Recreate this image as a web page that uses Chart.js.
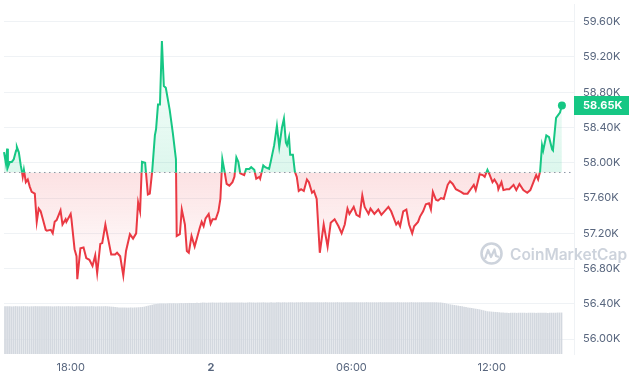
<!DOCTYPE html>
<html><head><meta charset="utf-8">
<script src="https://cdn.jsdelivr.net/npm/chart.js@4.4.0/dist/chart.umd.min.js"></script>
<style>html,body{margin:0;padding:0;background:#fff;}canvas{display:block;}</style>
</head><body>
<canvas id="c" width="630" height="380"></canvas>
<script>
// minutes after 15:09 (day 1)
const priceTimes = [
  0,5,8,10,15,20,25,31,33,38,
  43,46,48,51,56,61,66,71,79,84,
  89,94,99,107,110,120,125,130,135,145,
  150,158,160,171,173,181,186,188,196,204,
  211,219,227,234,239,247,252,260,267,275,
  285,290,298,306,313,323,331,339,344,349,
  354,362,369,374,380,387,390,395,400,405,
  410,415,425,433,441,443,451,456,464,469,
  474,481,489,494,502,507,512,517,525,530,
  535,543,550,555,560,565,571,578,586,591,
  596,601,606,616,621,629,634,642,647,655,
  657,665,670,680,685,693,700,706,713,718,
  723,726,731,734,741,746,751,756,762,769,
  777,782,790,795,802,810,820,830,838,848,
  858,866,874,881,886,897,904,912,919,925,
  935,940,950,960,968,986,993,1006,1011,1016,
  1024,1032,1039,1047,1052,1062,1067,1075,1082,1090,
  1095,1100,1108,1113,1121,1128,1138,1144,1151,1159,
  1172,1179,1189,1197,1205,1210,1220,1228,1233,1240,
  1245,1253,1258,1266,1268,1276,1281,1289,1296,1307,
  1314,1322,1332,1342,1350,1358,1365,1370,1375,1380,
  1383,1391,1398,1406,1408,1416,1426,1431
];
// price in thousands USD
const prices = [
  58.12,57.99,58.16,57.95,58.01,58.01,58.04,58.14,58.18,58.12,
  57.97,57.90,57.84,57.92,57.78,57.81,57.73,57.67,57.65,57.33,
  57.48,57.45,57.37,57.24,57.23,57.24,57.20,57.33,57.35,57.46,
  57.30,57.36,57.33,57.42,57.36,57.02,56.94,56.68,57.03,57.04,
  56.92,56.90,56.83,56.95,56.75,57.08,57.09,57.30,57.14,56.96,
  56.96,56.98,56.94,56.72,57.00,57.19,57.14,57.20,57.55,57.45,
  58.01,58.00,57.64,57.65,57.90,58.31,58.38,58.66,58.66,59.38,
  58.87,58.85,58.60,58.34,58.04,57.17,57.19,57.47,57.30,57.00,
  56.98,57.17,57.05,57.13,57.26,57.33,57.28,57.37,57.42,57.31,
  57.36,57.36,57.45,57.59,58.04,57.92,57.76,57.74,57.78,57.84,
  58.06,58.01,57.88,57.86,57.93,57.93,57.95,57.92,57.82,57.84,
  57.82,57.97,57.95,57.93,58.03,58.20,58.42,58.18,58.40,58.50,
  58.23,58.20,58.29,58.09,58.09,57.90,57.84,57.68,57.70,57.68,
  57.81,57.78,57.66,57.68,57.59,56.98,57.30,57.05,57.32,57.36,
  57.28,57.20,57.30,57.48,57.42,57.50,57.41,57.39,57.63,57.50,
  57.42,57.48,57.42,57.47,57.41,57.50,57.45,57.30,57.33,57.28,
  57.45,57.47,57.30,57.20,57.28,57.33,57.39,57.45,57.53,57.54,
  57.47,57.67,57.58,57.57,57.60,57.59,57.75,57.79,57.76,57.70,
  57.67,57.65,57.65,57.70,57.75,57.69,57.87,57.86,57.84,57.92,
  57.87,57.78,57.81,57.75,57.70,57.78,57.69,57.70,57.70,57.75,
  57.69,57.76,57.69,57.66,57.69,57.78,57.86,57.81,57.90,58.20,
  58.14,58.31,58.29,58.15,58.14,58.51,58.57,58.65
];
// 24h volume (billions), one bar every 5 minutes
const volumes = [
  29.5,29.6,29.5,29.5,29.4,29.5,29.6,29.5,29.5,29.5,
  29.6,29.5,29.5,29.4,29.5,29.5,29.6,29.5,29.5,29.5,
  29.5,29.6,29.5,29.5,29.5,29.4,29.5,29.5,29.6,29.5,
  29.5,29.5,29.5,29.6,29.5,29.5,29.4,29.5,29.5,29.5,
  29.6,29.5,29.5,29.5,29.5,29.6,29.5,29.4,29.5,29.5,
  29.5,29.5,29.6,29.5,29.4,29.3,29.2,29.0,
  28.9,28.8,28.8,28.7,28.8,28.7,28.7,28.8,28.7,28.8,28.8,28.9,29.0,29.1,
  29.3,29.6,29.9,30.2,30.5,30.8,31.0,31.1,31.2,31.2,
  31.3,31.2,31.3,31.4,31.3,31.4,31.3,31.3,31.4,31.5,31.4,31.5,31.5,31.6,31.5,31.6,31.6,31.7,31.6,
  31.7,31.8,31.8,31.7,31.8,31.8,31.9,31.8,31.8,31.8,
  31.9,31.8,31.8,31.9,31.8,31.8,31.8,31.9,31.9,31.8,
  31.8,31.9,31.8,31.8,31.9,32.0,31.9,31.9,31.8,31.9,
  31.9,31.9,32.0,31.9,31.9,31.9,32.0,31.9,31.9,32.0,
  32.0,31.9,32.0,32.0,31.9,32.0,32.0,32.0,31.9,32.0,
  32.0,32.0,32.1,32.0,32.0,32.0,32.0,32.1,32.0,32.0,
  32.0,32.0,32.0,32.0,32.1,32.0,32.0,32.0,32.0,32.0,
  32.1,32.0,32.0,32.0,32.0,32.0,32.0,32.1,32.0,32.0,
  32.0,32.0,32.0,32.0,32.0,32.1,32.0,32.0,32.0,32.0,
  32.0,32.0,32.1,32.0,32.0,32.0,32.0,32.0,32.0,32.0,
  32.0,32.1,32.0,32.0,32.0,32.0,32.0,32.0,32.1,32.0,
  32.0,32.0,32.0,32.0,32.0,32.0,32.0,32.0,32.0,32.0,
  32.0,32.0,31.9,31.9,
  31.7,31.5,31.2,30.9,30.7,30.5,30.3,30.1,29.9,29.7,29.5,29.3,
  29.1,28.8,28.6,28.4,28.2,28.0,27.8,27.6,27.3,27.0,26.7,26.4,
  26.3,26.2,26.1,26.0,25.9,25.8,25.7,25.6,
  25.5,25.5,25.4,25.5,25.5,25.5,25.4,25.5,25.5,25.5,
  25.5,25.4,25.5,25.5,25.5,25.5,25.4,25.5,25.5,25.5,
  25.5,25.5,25.4,25.5,25.5,25.5,25.5,25.6,25.6,25.6
];
const baseline = 57.89;
const yTickValues = [56.0,56.4,56.8,57.2,57.6,58.0,58.4,58.8,59.2,59.6];
const yTickLabels = ['56.00K','56.40K','56.80K','57.20K','57.60K','58.00K','58.40K','58.80K','59.20K','59.60K'];
const xTickValues = [171,531,891,1251];
const xTickLabels = ['18:00','2','06:00','12:00'];
const watermarkText = 'CoinMarketCap';

const GREEN = '#16c784', RED = '#ea3943';
const FONT = 'Inter, "Noto Sans", sans-serif';
const pricePoints = priceTimes.map((t, i) => ({x: t, y: prices[i]}));
const volumePoints = volumes.map((v, i) => ({x: i * 5, y: v}));

function greenGrad(c) {
  const ch = c.chart, a = ch.chartArea;
  if (!a) return 'rgba(0,0,0,0)';
  const yb = ch.scales.y.getPixelForValue(baseline);
  const g = ch.ctx.createLinearGradient(0, a.top + 20, 0, yb);
  g.addColorStop(0, 'rgba(22,199,132,0.0)');
  g.addColorStop(1, 'rgba(22,199,132,0.15)');
  return g;
}
function redGrad(c) {
  const ch = c.chart, a = ch.chartArea;
  if (!a) return 'rgba(0,0,0,0)';
  const yb = ch.scales.y.getPixelForValue(baseline);
  const ye = ch.scales.y.getPixelForValue(56.7);
  const g = ch.ctx.createLinearGradient(0, yb, 0, ye);
  g.addColorStop(0, 'rgba(234,57,67,0.15)');
  g.addColorStop(1, 'rgba(234,57,67,0.0)');
  return g;
}

const splitClip = {
  id: 'splitClip',
  beforeDatasetDraw(chart, args) {
    if (args.index > 1) return;
    const ctx = chart.ctx;
    const yb = chart.scales.y.getPixelForValue(baseline);
    ctx.save();
    ctx.beginPath();
    if (args.index === 0) ctx.rect(0, 0, chart.width, yb);
    else ctx.rect(0, yb, chart.width, chart.height - yb);
    ctx.clip();
  },
  afterDatasetDraw(chart, args) {
    if (args.index > 1) return;
    chart.ctx.restore();
  }
};

const watermark = {
  id: 'watermark',
  beforeDatasetsDraw(chart) {
    const ctx = chart.ctx;
    ctx.save();
    const col = '#cdd3dc';
    ctx.strokeStyle = col;
    ctx.lineWidth = 2.6;
    ctx.beginPath();
    ctx.arc(491.5, 253.5, 10, 0, Math.PI * 2);
    ctx.stroke();
    ctx.lineWidth = 2.2;
    ctx.lineJoin = 'round';
    ctx.beginPath();
    ctx.moveTo(485, 259);
    ctx.lineTo(488, 250);
    ctx.lineTo(491, 257);
    ctx.lineTo(494.5, 249.5);
    ctx.lineTo(496, 256);
    ctx.lineTo(499, 257);
    ctx.stroke();
    ctx.fillStyle = col;
    ctx.font = '600 15.5px ' + FONT;
    ctx.textBaseline = 'alphabetic';
    ctx.textAlign = 'left';
    ctx.fillText(watermarkText, 510, 260);
    ctx.restore();
  }
};

const priceTag = {
  id: 'priceTag',
  afterDraw(chart) {
    const ctx = chart.ctx, a = chart.chartArea;
    const last = prices[prices.length - 1];
    const y = chart.scales.y.getPixelForValue(last);
    ctx.save();
    ctx.fillStyle = GREEN;
    ctx.fillRect(a.right, Math.round(y) - 9, chart.width - a.right - 1, 19);
    ctx.fillStyle = '#ffffff';
    ctx.font = 'bold 11px ' + FONT;
    ctx.textBaseline = 'middle';
    ctx.textAlign = 'left';
    ctx.fillText(last.toFixed(2) + 'K', a.right + 9, Math.round(y) + 0.5);
    ctx.restore();
  }
};

new Chart(document.getElementById('c'), {
  type: 'line',
  data: {
    datasets: [
      {
        data: pricePoints, borderColor: GREEN, borderWidth: 2, tension: 0,
        backgroundColor: greenGrad,
        fill: {value: baseline, below: 'rgba(0,0,0,0)'},
        pointRadius: (c) => c.dataIndex === prices.length - 1 ? 4 : 0,
        pointBackgroundColor: GREEN, pointBorderWidth: 0, pointHoverRadius: 0,
        order: 1, clip: 6
      },
      {
        data: pricePoints, borderColor: RED, borderWidth: 2, tension: 0,
        backgroundColor: redGrad,
        fill: {value: baseline, above: 'rgba(0,0,0,0)'},
        pointRadius: 0, pointHoverRadius: 0,
        order: 1
      },
      {
        data: [{x: 0, y: baseline}, {x: 1462, y: baseline}],
        borderColor: '#8d96a6', borderWidth: 1, borderDash: [1.5, 3.5],
        pointRadius: 0, fill: false, order: 2
      },
      {
        type: 'bar', data: volumePoints, yAxisID: 'yv',
        backgroundColor: '#d3d8df', borderWidth: 0, barThickness: 1,
        order: 3
      }
    ]
  },
  options: {
    responsive: false,
    animation: false,
    layout: {padding: 0},
    plugins: {legend: {display: false}, tooltip: {enabled: false}},
    scales: {
      x: {
        type: 'linear', min: 0, max: 1462, offset: false,
        afterBuildTicks: (s) => { s.ticks = xTickValues.map(v => ({value: v})); },
        afterFit: (s) => { s.height = 26; s.paddingLeft = 0; s.paddingRight = 0; },
        grid: {display: false, drawTicks: false, offset: false},
        border: {display: false},
        ticks: {
          autoSkip: false, maxRotation: 0, padding: 7, color: '#58667e',
          callback: (v) => xTickLabels[xTickValues.indexOf(v)],
          font: (c) => ({family: FONT, size: 11, weight: (c.tick && c.tick.value === 531) ? 'bold' : 'normal'})
        }
      },
      y: {
        position: 'right', min: 55.832, max: 59.80,
        afterBuildTicks: (s) => { s.ticks = yTickValues.map(v => ({value: v})); },
        afterFit: (s) => { s.width = 56; s.paddingTop = 0; s.paddingBottom = 0; },
        grid: {color: '#eff2f5', drawTicks: false},
        border: {display: true, color: '#eff2f5'},
        ticks: {
          padding: 9, color: '#58667e',
          font: {family: FONT, size: 11},
          callback: (v) => yTickLabels[yTickValues.findIndex(t => Math.abs(t - v) < 1e-6)]
        }
      },
      yv: {display: false, min: 0, max: 218}
    }
  },
  plugins: [splitClip, watermark, priceTag]
});
</script>
</body></html>
